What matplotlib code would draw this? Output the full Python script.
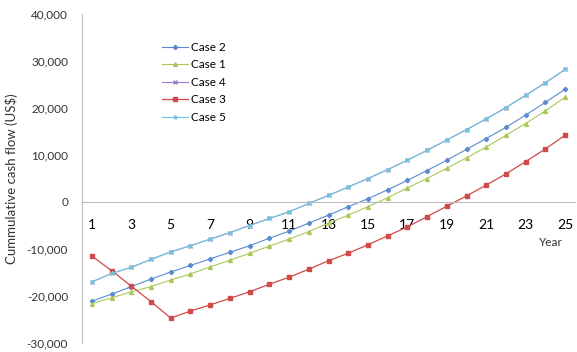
import matplotlib.pyplot as plt
import numpy as np

years = np.arange(1, 26)

case2 = [-21100, -19600, -18000, -16400, -14900, -13500, -12100, -10700, -9300, -7700,
         -6200, -4500, -2800, -1000, 700, 2600, 4600, 6700, 8900, 11200,
         13500, 15900, 18500, 21200, 24000]
case1 = [-21600, -20400, -19100, -18000, -16600, -15300, -13800, -12400, -10900, -9400,
         -7900, -6300, -4500, -2800, -1000, 900, 3000, 5000, 7200, 9400,
         11700, 14200, 16700, 19400, 22300]
case5 = [-17000, -15200, -13900, -12200, -10600, -9300, -7900, -6500, -5000, -3500,
         -2100, -300, 1400, 3200, 5000, 6900, 8900, 11000, 13200, 15400,
         17700, 20100, 22700, 25400, 28200]
case4 = list(case5)  # hidden under case 5
case3 = [-11500, -14600, -17900, -21200, -24700, -23200, -21900, -20500, -19100, -17500,
         -16000, -14300, -12500, -10900, -9100, -7200, -5300, -3100, -900, 1300,
         3600, 6000, 8600, 11300, 14200]

plt.rcParams['font.family'] = ['Lato', 'DejaVu Sans']

fig = plt.figure(figsize=(5.77, 3.52), dpi=100)
ax = fig.add_axes([82/577, 9/352, 493/577, 329/352])

ax.plot(years, case2, color='#5b8ad0', marker='D', ms=2.2, lw=0.8, label='Case 2')
ax.plot(years, case1, color='#aac85a', marker='^', ms=2.8, lw=0.8, label='Case 1')
ax.plot(years, case4, color='#9a7fc8', marker='x', ms=2.2, lw=0.8, label='Case 4')
ax.plot(years, case3, color='#d04a48', marker='s', ms=3.2, lw=0.9, label='Case 3')
ax.plot(years, case5, color='#72c6dc', marker='*', ms=2.8, lw=0.8, label='Case 5')

ax.set_xlim(0.5, 25.5)
ax.set_ylim(-30000, 40000)
ax.set_yticks(np.arange(-30000, 40001, 10000))
ax.set_yticklabels(['{:,}'.format(v) for v in range(-30000, 40001, 10000)], fontsize=8.5, color='#333333')
ax.set_xticks(np.arange(1, 26, 2))
ax.set_xticklabels([str(v) for v in range(1, 26, 2)], fontsize=8.5, color='#333333')

ax.spines['top'].set_visible(False)
ax.spines['right'].set_visible(False)
ax.spines['left'].set_color('#bbbbbb')
ax.spines['bottom'].set_position(('data', 0))
ax.spines['bottom'].set_color('#bbbbbb')
ax.tick_params(axis='both', length=0)
ax.tick_params(axis='x', pad=12)
ax.tick_params(axis='y', pad=10)

ax.text(24.3, -8600, 'Year', fontsize=8.5, color='#333333', ha='center', va='center')
ax.set_ylabel('Cummulative cash flow (US$)', fontsize=9.5, color='#333333', labelpad=6)

ax.legend(loc='upper left', bbox_to_anchor=(0.14, 0.948), frameon=False, fontsize=8.5,
          handlelength=2.2, labelspacing=0.55, handletextpad=0.3)

fig.savefig('out.png', dpi=100)
